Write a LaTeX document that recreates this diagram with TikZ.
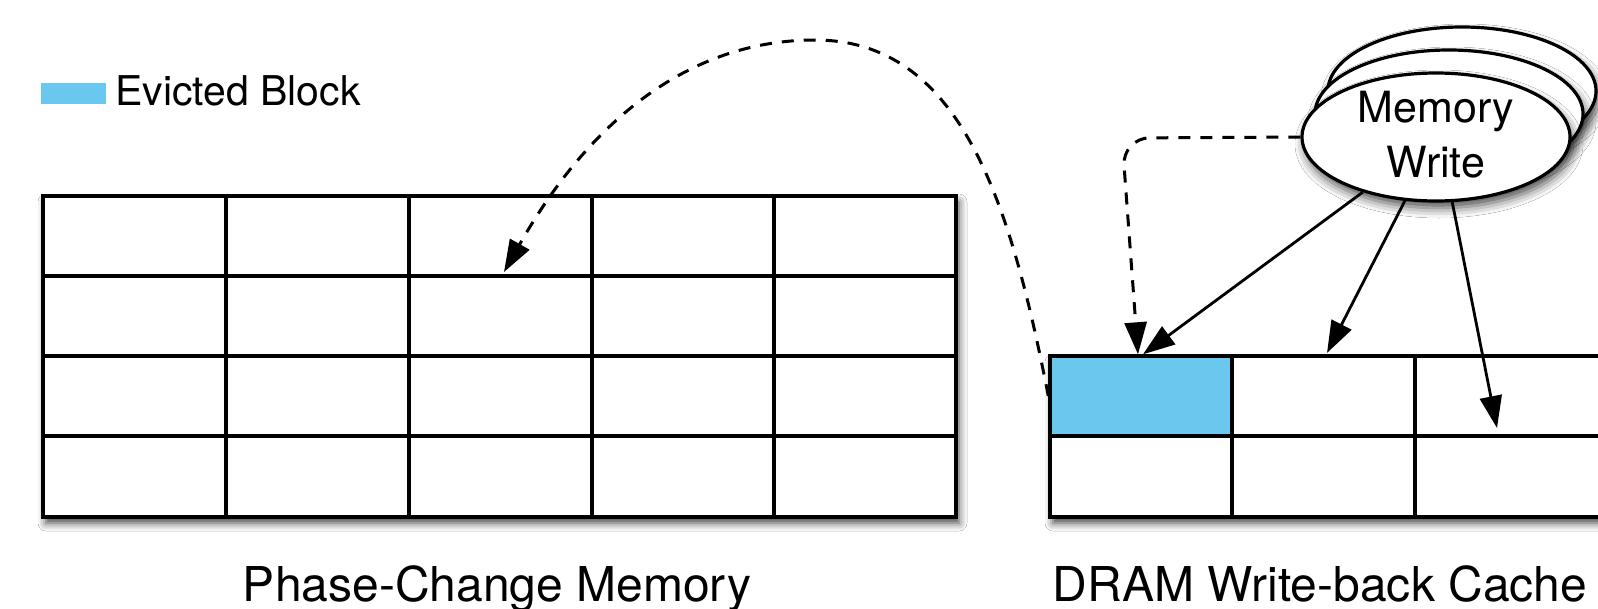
\documentclass[tikz,border=0pt]{standalone}
\usepackage{fontspec}
\setmainfont{TeX Gyre Heros}
\usetikzlibrary{arrows.meta,shapes.geometric,shadows.blur}
\definecolor{evicted}{RGB}{106,199,237}
\begin{document}
\begin{tikzpicture}[x=1pt,y=-1pt,
  gridline/.style={line width=3.4pt},
  gridbox/.style={draw,line width=3.4pt,fill=white,rectangle,inner sep=0pt,
    blur shadow={shadow xshift=3pt,shadow yshift=-6pt,shadow blur radius=8pt,shadow opacity=75}},
  arr/.style={line width=2.8pt,-{Triangle[length=32pt,width=22pt]}},
  dasharr/.style={arr,line width=3pt,dash pattern=on 12pt off 10pt},
  wellipse/.style={draw,ellipse,line width=3.2pt,fill=white,minimum width=268pt,minimum height=128pt,inner sep=0pt,
    blur shadow={shadow xshift=3pt,shadow yshift=-7pt,shadow blur radius=10pt,shadow opacity=70}},
  lbl/.style={font=\fontsize{48}{58}\selectfont}
]
\useasboundingbox (0,0) rectangle (1598,608);
\clip (0,0) rectangle (1598,608);
\fill[white] (0,0) rectangle (1598,608);

% legend
\node[fill=evicted,minimum width=65pt,minimum height=21pt,inner sep=0pt] (legbox) at (73.5,93.5) {};
\node[anchor=base west,font=\fontsize{41}{48}\selectfont,inner sep=0pt] (legtxt) at (115,105) {Evicted Block};

% PCM grid
\node[gridbox,minimum width=913pt,minimum height=321pt] (pcm) at (499.5,356.5) {};
\foreach \x in {226,409,592,774} \draw[gridline] (\x,196) -- (\x,517);
\foreach \y in {276,356,436} \draw[gridline] (43,\y) -- (956,\y);

% DRAM grid
\node[gridbox,minimum width=570pt,minimum height=161pt] (dram) at (1335,436.5) {};
\node[draw,line width=3.4pt,fill=evicted,minimum width=182pt,minimum height=80pt,inner sep=0pt] (evict) at (1141,396) {};
\foreach \x in {1232,1415} \draw[gridline] (\x,356) -- (\x,517);
\draw[gridline] (1050,436) -- (1620,436);

% Memory write stack
\node[wellipse] (mw3) at (1462,91) {};
\node[wellipse] (mw2) at (1449,114) {};
\node[wellipse] (mw) at (1436,137) {};
\node[align=center,font=\fontsize{43}{55}\selectfont,inner sep=0pt] (mwtext) at (1436,135) {Memory\\Write};

% connectors
\coordinate (dcorner) at (1122,138);
\coordinate (t2) at (1327,353);
\coordinate (t3) at (1497,428);
\coordinate (pcmt) at (504,272);
\draw[dasharr,rounded corners=28pt] (mw.west) -- (dcorner) -- ([xshift=-3pt]evict.north);
\draw[arr] (mw.217) -- ([xshift=2pt]evict.north);
\draw[arr] (mw.244) -- (t2);
\draw[arr] (mw.284) -- (t3);
\draw[dasharr] (evict.west) .. controls (1010,200) and (960,40) .. (815,40)
  .. controls (690,40) and (590,120) .. (pcmt);

% labels
\node[lbl,anchor=base,inner sep=0pt] (pcmlbl) at (497,601) {Phase-Change Memory};
\node[lbl,anchor=base,inner sep=0pt] (dramlbl) at (1320,601) {DRAM Write-back Cache};
\end{tikzpicture}
\end{document}
